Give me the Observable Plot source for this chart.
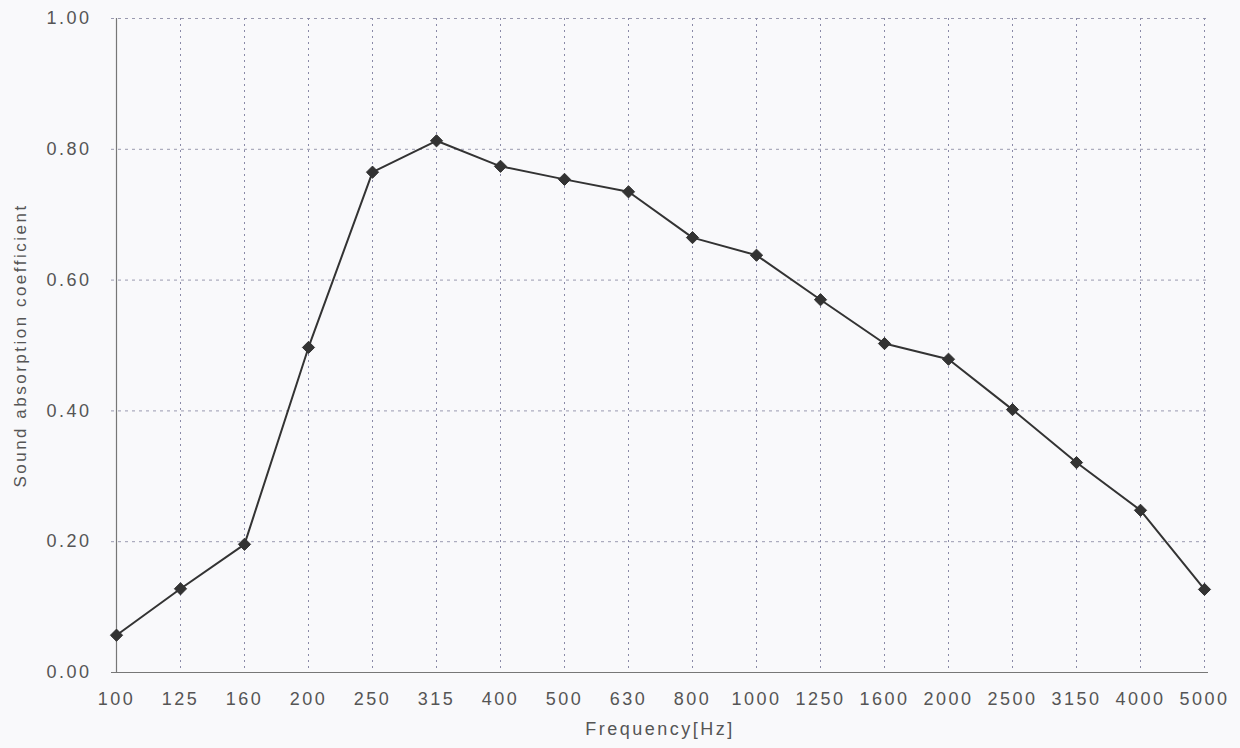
<!DOCTYPE html>
<html>
<head>
<meta charset="utf-8">
<script src="https://cdn.jsdelivr.net/npm/d3@7"></script>
<script src="https://cdn.jsdelivr.net/npm/@observablehq/plot@0.6"></script>
<style>
  html, body { margin: 0; padding: 0; background: #f9f9fb; }
  #chart svg { display: block; }
  #chart svg text { letter-spacing: 2.5px; }
</style>
</head>
<body>
<div id="chart"></div>
<script>
const frequencies = ["100","125","160","200","250","315","400","500","630","800","1000","1250","1600","2000","2500","3150","4000","5000"];
const coefficients = [0.057,0.128,0.196,0.497,0.765,0.813,0.774,0.754,0.735,0.665,0.638,0.570,0.503,0.479,0.402,0.321,0.248,0.127];
const yTicks = [0, 0.2, 0.4, 0.6, 0.8, 1.0];

const data = frequencies.map((f, i) => ({freq: f, value: coefficients[i]}));

const chart = Plot.plot({
  width: 1240,
  height: 748,
  marginLeft: 111,
  marginRight: 32,
  marginTop: 18,
  marginBottom: 76,
  style: {background: "transparent", fontFamily: "'Liberation Sans', Arial, sans-serif", fontSize: "18px", color: "#555"},
  x: {type: "point", domain: frequencies, padding: 0, label: null},
  y: {domain: [0, 1], label: null},
  marks: [
    Plot.ruleY(yTicks.filter(d => d > 0), {stroke: "#9a9ab0", strokeDasharray: "3,4", strokeWidth: 1}),
    Plot.ruleX(frequencies.slice(1), {stroke: "#8a8aa8", strokeDasharray: "2,4", strokeWidth: 1}),
    Plot.ruleY([0], {stroke: "#777", strokeWidth: 1.2}),
    Plot.ruleX([frequencies[0]], {stroke: "#777", strokeWidth: 1.2}),
    Plot.axisY({ticks: yTicks, tickFormat: d3.format(".2f"), tickSize: 0, tickPadding: 20, fontSize: 18, fill: "#555", label: null}),
    Plot.axisX({tickSize: 0, tickPadding: 20, fontSize: 18, fill: "#555", label: null}),
    Plot.text(["Frequency[Hz]"], {frameAnchor: "bottom", dy: 62, fontSize: 18, fill: "#555"}),
    Plot.text(["Sound absorption coefficient"], {frameAnchor: "left", textAnchor: "middle", dx: -91, rotate: -90, fontSize: 17, fill: "#555"}),
    Plot.line(data, {x: "freq", y: "value", stroke: "#333", strokeWidth: 2}),
    Plot.dot(data, {x: "freq", y: "value", symbol: "diamond2", r: 5.5, fill: "#333", stroke: "#333", strokeWidth: 1})
  ]
});
document.getElementById("chart").appendChild(chart);
</script>
</body>
</html>
